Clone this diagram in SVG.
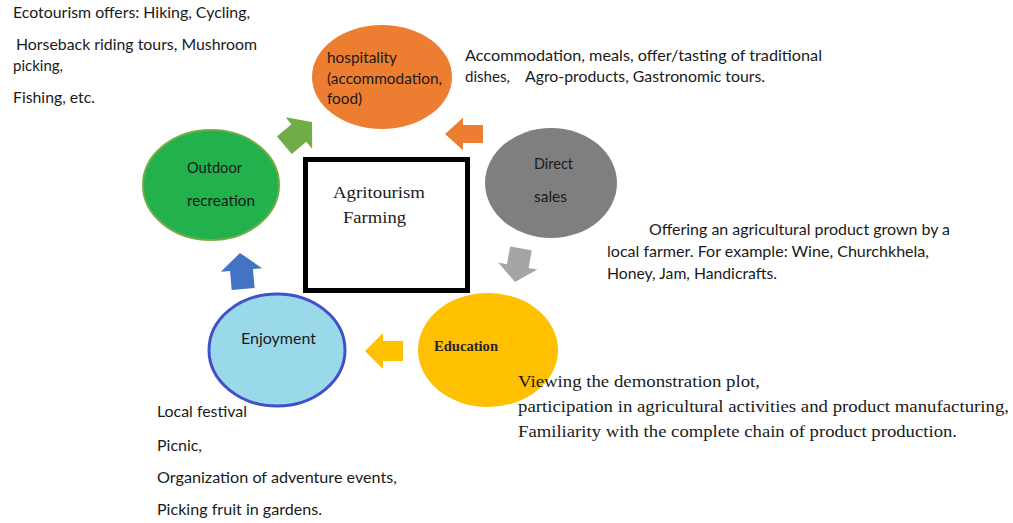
<svg xmlns="http://www.w3.org/2000/svg" width="1013" height="523" viewBox="0 0 1013 523">
<style>
.s{font-family:Lato,"Open Sans","Liberation Sans",sans-serif;font-size:15px;fill:#1a1a1a;}
.r{font-family:"Liberation Serif","DejaVu Serif",serif;font-size:17px;fill:#1a1a1a;}
.rb{font-family:"Liberation Serif","DejaVu Serif",serif;font-size:15px;font-weight:bold;fill:#262626;}
</style>
<defs>
<path id="arr" d="M0,0 L-18,-18 L-18,-10 L-38,-10 L-38,10 L-18,10 L-18,18 Z"/>
</defs>
<rect width="1013" height="523" fill="#ffffff"/>

<g id="connectors">
<use href="#arr" fill="#70ad47" transform="translate(312,122) rotate(-40) scale(0.95,1.15)"/>
<use href="#arr" fill="#ed7d31" transform="translate(445,134) rotate(180) scale(1,0.9)"/>
<use href="#arr" fill="#a5a5a5" transform="translate(515,282) rotate(100) scale(0.9,1.1)"/>
<use href="#arr" fill="#ffc000" transform="translate(365,351) rotate(180)"/>
<use href="#arr" fill="#4472c4" transform="translate(240,253) rotate(-95) scale(0.95,1.15)"/>
</g>

<g id="node-center">
<rect x="305.5" y="159.5" width="162" height="131" fill="#ffffff" stroke="#000000" stroke-width="5"/>
<text class="r" x="333" y="198" textLength="92" lengthAdjust="spacingAndGlyphs">Agritourism</text>
<text class="r" x="343" y="223" textLength="63" lengthAdjust="spacingAndGlyphs">Farming</text>
</g>

<g id="node-hospitality">
<ellipse cx="382" cy="77" rx="70" ry="52" fill="#ed7d31"/>
<text class="s" x="327" y="63" textLength="70" lengthAdjust="spacingAndGlyphs">hospitality</text>
<text class="s" x="327" y="84" textLength="115" lengthAdjust="spacingAndGlyphs">(accommodation,</text>
<text class="s" x="327" y="104" textLength="35" lengthAdjust="spacingAndGlyphs">food)</text>
</g>

<g id="node-direct-sales">
<ellipse cx="551" cy="183" rx="66" ry="55" fill="#7f7f7f"/>
<text class="s" x="534" y="169" textLength="39" lengthAdjust="spacingAndGlyphs">Direct</text>
<text class="s" x="534" y="202" textLength="33" lengthAdjust="spacingAndGlyphs">sales</text>
</g>

<g id="node-outdoor">
<ellipse cx="211" cy="185" rx="68" ry="55" fill="#22b14c" stroke="#70ad47" stroke-width="2"/>
<text class="s" x="187" y="173" textLength="55" lengthAdjust="spacingAndGlyphs">Outdoor</text>
<text class="s" x="187" y="206" textLength="68" lengthAdjust="spacingAndGlyphs">recreation</text>
</g>

<g id="node-enjoyment">
<ellipse cx="277" cy="350" rx="68" ry="56" fill="#99d9ea" stroke="#4050c8" stroke-width="3"/>
<text class="s" x="241" y="344" textLength="75" lengthAdjust="spacingAndGlyphs">Enjoyment</text>
</g>

<g id="node-education">
<ellipse cx="488" cy="350" rx="70" ry="57" fill="#ffc000"/>
<text class="rb" x="434" y="351" textLength="64" lengthAdjust="spacingAndGlyphs">Education</text>
</g>

<g id="note-outdoor">
<text class="s" x="13" y="18" textLength="237" lengthAdjust="spacingAndGlyphs">Ecotourism offers: Hiking, Cycling,</text>
<text class="s" x="16" y="50" textLength="241" lengthAdjust="spacingAndGlyphs">Horseback riding tours, Mushroom</text>
<text class="s" x="13" y="71" textLength="50" lengthAdjust="spacingAndGlyphs">picking,</text>
<text class="s" x="13" y="103" textLength="82" lengthAdjust="spacingAndGlyphs">Fishing, etc.</text>
</g>

<g id="note-hospitality">
<text class="s" x="465" y="61" textLength="357" lengthAdjust="spacingAndGlyphs">Accommodation, meals, offer/tasting of traditional</text>
<text class="s" x="465" y="82" textLength="45" lengthAdjust="spacingAndGlyphs">dishes,</text>
<text class="s" x="525" y="82" textLength="240" lengthAdjust="spacingAndGlyphs">Agro-products, Gastronomic tours.</text>
</g>

<g id="note-direct-sales">
<text class="s" x="649" y="235" textLength="301" lengthAdjust="spacingAndGlyphs">Offering an agricultural product grown by a</text>
<text class="s" x="607" y="257" textLength="322" lengthAdjust="spacingAndGlyphs">local farmer. For example: Wine, Churchkhela,</text>
<text class="s" x="607" y="279" textLength="170" lengthAdjust="spacingAndGlyphs">Honey, Jam, Handicrafts.</text>
</g>

<g id="note-enjoyment">
<text class="s" x="157" y="417" textLength="90" lengthAdjust="spacingAndGlyphs">Local festival</text>
<text class="s" x="157" y="451" textLength="45" lengthAdjust="spacingAndGlyphs">Picnic,</text>
<text class="s" x="157" y="483" textLength="240" lengthAdjust="spacingAndGlyphs">Organization of adventure events,</text>
<text class="s" x="157" y="515" textLength="165" lengthAdjust="spacingAndGlyphs">Picking fruit in gardens.</text>
</g>

<g id="note-education">
<text class="r" x="518" y="387" textLength="242" lengthAdjust="spacingAndGlyphs">Viewing the demonstration plot,</text>
<text class="r" x="518" y="412" textLength="491" lengthAdjust="spacingAndGlyphs">participation in agricultural activities and product manufacturing,</text>
<text class="r" x="518" y="437" textLength="439" lengthAdjust="spacingAndGlyphs">Familiarity with the complete chain of product production.</text>
</g>
</svg>
